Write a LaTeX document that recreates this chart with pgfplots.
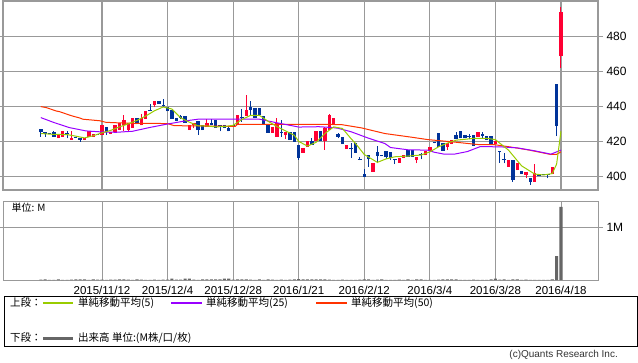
\documentclass[border=0pt]{standalone}
\usepackage{pgfplots}
\pgfplotsset{compat=1.18}
\usepackage{pgfplotstable}
\usepackage{fontspec}
\setmainfont{Liberation Sans}
\newfontfamily\jp{Noto Sans CJK JP}
\definecolor{cred}{HTML}{FF0033}
\definecolor{cblue}{HTML}{003399}
\definecolor{cmaA}{HTML}{99CC00}
\definecolor{cmaB}{HTML}{9900FF}
\definecolor{cmaC}{HTML}{FF3300}
\definecolor{cgrid}{HTML}{999999}
\definecolor{cvol}{HTML}{666666}

\pgfplotstableread{
i o h l c
-10 421.7 424.0 421.7 423.9
-9 422.6 425.8 422.6 425.8
-7 420.9 425.8 420.9 422.0
-4 420.9 422.0 420.9 422.0
-3 422.6 425.8 422.6 425.8
-2 422.6 424.1 422.6 424.1
0 423.9 429.2 423.9 429.2
2 424.5 425.5 424.0 425.5
3 425.1 429.2 425.1 429.2
4 426.4 430.4 426.4 430.4
5 429.2 434.9 425.8 432.1
6 426.4 430.8 425.5 430.8
7 427.7 433.4 427.7 433.4
9 429.2 435.9 429.2 433.4
10 432.7 437.2 432.7 437.2
12 440.6 442.9 439.7 442.9
20 426.4 429.2 426.4 429.2
21 429.2 430.8 427.4 430.8
24 428.3 433.0 428.3 430.8
31 429.2 434.9 429.2 434.9
33 434.4 446.3 434.4 437.8
39 424.9 428.3 424.9 428.3
40 422.6 433.6 422.6 430.8
42 423.6 425.1 421.3 425.1
46 413.5 416.0 413.5 416.0
47 416.9 420.1 416.9 420.1
49 420.1 425.8 420.1 425.8
51 420.1 428.3 415.2 427.7
52 426.4 435.9 426.4 434.9
53 429.2 433.6 429.2 433.6
56 415.6 417.9 415.6 417.9
62 402.7 407.4 402.7 407.4
68 407.8 410.6 407.8 410.6
69 410.6 412.2 410.6 412.2
72 409.3 411.2 407.4 411.2
74 412.2 414.6 412.2 414.6
75 414.6 416.9 414.6 416.9
79 416.9 419.2 415.0 419.2
80 418.4 420.7 418.4 420.7
86 422.6 425.1 422.6 425.1
90 418.4 420.1 418.4 420.1
93 405.5 409.3 405.5 409.3
95 403.6 407.4 403.6 407.4
97 400.8 402.3 398.9 402.3
99 397.0 407.0 397.0 401.7
103 401.3 405.1 401.3 405.1
105 468.8 497.0 462.0 494.2
}\upc

\pgfplotstableread{
i o h l c
-14 427.0 427.0 422.6 425.1
-13 425.5 425.5 422.6 424.5
-12 425.0 425.0 424.0 424.4
-11 425.5 425.8 422.6 422.6
-8 425.0 425.8 421.7 424.5
-6 422.6 422.6 422.0 422.0
-5 422.0 422.0 419.8 420.9
-1 424.5 424.5 423.9 423.9
1 428.1 428.1 423.6 425.1
8 433.4 433.4 429.8 429.8
11 437.9 441.6 437.4 437.4
13 442.9 442.9 441.6 441.6
14 440.6 444.1 439.7 440.0
15 439.7 439.7 437.2 437.2
16 437.8 437.8 432.7 432.7
17 433.6 433.6 431.7 431.7
18 434.4 435.0 432.7 433.4
19 434.4 434.4 430.8 430.8
22 431.5 431.5 423.9 426.4
23 429.2 429.2 426.4 426.4
25 430.8 433.0 429.2 429.2
26 432.1 432.1 427.7 427.7
27 429.5 429.5 425.8 429.0
28 429.6 429.6 427.7 427.7
29 427.7 428.5 425.8 425.8
30 429.6 429.6 428.3 428.7
32 433.8 438.7 431.1 433.2
34 439.7 442.9 434.9 438.2
35 439.1 439.1 433.4 433.4
36 439.1 439.1 434.9 434.9
37 434.4 434.4 429.6 429.6
38 429.2 429.2 424.9 424.9
41 425.4 432.1 422.6 424.9
43 425.1 425.1 420.7 420.7
44 425.1 425.1 419.8 419.8
45 417.9 417.9 409.5 410.6
48 420.1 422.0 418.2 418.2
50 425.8 425.8 420.1 420.1
54 424.0 424.9 421.7 422.6
55 422.6 422.6 418.4 418.4
57 416.3 418.8 410.6 415.8
58 418.8 418.8 413.5 413.5
59 410.2 411.2 409.3 409.7
60 401.3 404.0 399.8 399.8
61 412.2 412.2 405.5 409.7
63 413.7 417.5 407.4 411.8
64 412.2 412.2 411.4 411.6
65 414.6 414.6 409.7 411.2
66 413.7 413.7 409.3 410.6
67 410.2 410.2 407.0 409.7
70 415.0 415.0 411.2 411.2
71 415.0 415.0 411.2 411.2
73 413.0 413.1 409.7 412.5
76 419.5 419.5 418.8 419.0
77 424.9 424.9 416.9 416.9
78 419.2 419.2 414.6 414.6
81 423.9 425.5 421.1 421.1
82 425.8 425.8 421.7 421.7
83 423.9 423.9 421.7 421.7
84 423.3 424.5 421.1 422.8
85 423.9 423.9 417.5 417.5
87 424.5 425.5 421.7 423.0
88 423.0 423.0 420.7 420.7
89 423.0 423.0 418.4 418.4
91 414.4 414.6 407.8 413.9
92 410.0 413.1 407.4 409.5
94 409.3 409.3 397.0 397.9
96 403.2 403.2 401.3 401.3
98 399.2 399.2 395.1 397.0
100 401.3 401.5 400.2 400.2
101 401.3 401.5 400.6 400.8
102 401.3 401.5 398.9 400.8
104 453.0 453.0 423.0 428.7
}\downc

\pgfplotstableread{
i v
-14 0.006
-13 0.012
-12 0.004
-11 0.003
-10 0.012
-9 0.004
-8 0.003
-7 0.005
-6 0.014
-5 0.014
-4 0.012
-3 0.004
-2 0.012
-1 0.005
0 0.006
1 0.004
2 0.008
3 0.005
4 0.014
5 0.014
6 0.006
7 0.004
8 0.012
9 0.005
10 0.004
11 0.003
12 0.006
13 0.004
14 0.006
15 0.005
16 0.028
17 0.006
18 0.005
19 0.026
20 0.026
21 0.006
22 0.004
23 0.012
24 0.012
25 0.012
26 0.012
27 0.010
28 0.026
29 0.024
30 0.006
31 0.014
32 0.014
33 0.010
34 0.005
35 0.004
36 0.012
37 0.004
38 0.012
39 0.005
40 0.004
41 0.005
42 0.004
43 0.006
44 0.014
45 0.018
46 0.014
47 0.014
48 0.012
49 0.012
50 0.012
51 0.010
52 0.006
53 0.004
54 0.004
55 0.005
56 0.004
57 0.003
58 0.004
59 0.005
60 0.012
61 0.010
62 0.004
63 0.005
64 0.012
65 0.004
66 0.003
67 0.004
68 0.005
69 0.004
70 0.012
71 0.004
72 0.012
73 0.012
74 0.004
75 0.004
76 0.003
77 0.005
78 0.012
79 0.012
80 0.012
81 0.010
82 0.004
83 0.003
84 0.004
85 0.005
86 0.004
87 0.003
88 0.004
89 0.012
90 0.028
91 0.006
92 0.012
93 0.004
94 0.014
95 0.012
96 0.004
97 0.005
98 0.004
99 0.003
100 0.004
101 0.003
102 0.004
103 0.012
104 0.45
105 1.38
}\vol

\begin{document}
\begin{tikzpicture}[x=1pt,y=1pt]
\path[use as bounding box] (0pt,0pt) rectangle (638pt,362pt);
% ---------- price panel ----------
\begin{axis}[
  at={(3pt,172pt)}, anchor=south west, scale only axis,
  width=595pt, height=189pt,
  xmin=-22.65, xmax=113.47, ymin=392.2, ymax=500.3,
  axis line style={cgrid, line width=1.2pt},
  xtick={0,15,...,105}, xticklabels={},
  xtick style={draw=none},
  ytick={400,420,440,460,480},
  yticklabel pos=right,
  tick align=outside, major tick length=5pt,
  ytick style={draw=cgrid, line width=1.1pt},
  grid=major, major grid style={cgrid, line width=1.1pt},
  ticklabel style={font=\fontsize{12}{14}\selectfont, text=black},
  /pgf/number format/assume math mode=true,
  yticklabel style={/pgf/number format/.cd, fixed, precision=0},
]
% wicks
\addplot[draw=none, mark=none, forget plot,
  error bars/.cd, y dir=plus, y explicit, error mark=none,
  error bar style={draw=cred, line width=1pt}]
  table[x=i, y=l, y error expr={\thisrow{h}-\thisrow{l}}] {\upc};
\addplot[draw=none, mark=none, forget plot,
  error bars/.cd, y dir=plus, y explicit, error mark=none,
  error bar style={draw=cblue, line width=1pt}]
  table[x=i, y=l, y error expr={\thisrow{h}-\thisrow{l}}] {\downc};
% bodies
\addplot[draw=none, mark=none, forget plot,
  error bars/.cd, y dir=plus, y explicit, error mark=none,
  error bar style={draw=cred, line width=3.4pt}]
  table[x=i, y=o, y error expr={\thisrow{c}-\thisrow{o}}] {\upc};
\addplot[draw=none, mark=none, forget plot,
  error bars/.cd, y dir=plus, y explicit, error mark=none,
  error bar style={draw=cblue, line width=3.4pt}]
  table[x=i, y=c, y error expr={\thisrow{o}-\thisrow{c}}] {\downc};
% 50-day MA
\addplot[cmaC, line width=1pt] coordinates {
(-14,439.9) (-12.7,439.3) (-10.5,437.4) (-9.7,437.0) (-7.5,435.1) (-6.6,434.4) (-5.1,433.4) (-4.4,432.7) (-0.5,431.8) (0.9,430.9) (5.9,430.4) (15,430.2) (16.5,429.0) (30.5,428.6) (31,429.8) (49.6,429.8) (54.8,429.6) (59.4,427.7) (64.7,424.5) (70.8,422.4) (74.6,421.0) (79.9,419.8) (86,418.2) (89.8,418.1) (93.2,416.9) (97.8,415.0) (102.7,412.5) (104,412.6) (105,414.0)};
% 25-day MA
\addplot[cmaB, line width=1pt] coordinates {
(-14,433.6) (-11,430.8) (-7.5,427.9) (-3.7,426.0) (0,425.4) (3.2,425.2) (7,425.8) (11,428.0) (14.7,429.8) (19,431.7) (22,432.7) (36,432.7) (39.7,430.8) (45,428.2) (49.6,428.4) (52.8,427.9) (54,427.5) (57,425.5) (61,421.8) (64.7,418.8) (66,416.5) (70,415.2) (74.5,415.0) (76,413.8) (78.3,412.7) (80.6,412.7) (83.6,414.2) (86.5,417.0) (91,416.9) (95,416.3) (99,414.6) (102.7,412.7) (105,415.0)};
% 5-day MA
\addplot[cmaA, line width=1pt] coordinates {
(-14,424.5) (-11,424.0) (-8,423.9) (-6,423.0) (-4,422.0) (-2,423.2) (0,424.9) (2,426.3) (4,428.3) (6,430.0) (8,432.0) (10,434.5) (12,437.5) (14,439.7) (16,438.5) (18,433.5) (20,431.0) (22,428.9) (24,428.8) (26,428.3) (28,428.5) (30,429.2) (32,432.5) (34,434.9) (36,434.9) (38,431.5) (40,428.5) (42,426.0) (44,423.5) (45,420.0) (47,417.3) (49,419.5) (51,424.5) (53,428.3) (55,427.4) (57,421.5) (58,418.8) (60,412.5) (62,409.5) (63,408.0) (65,410.0) (67,411.2) (70,411.6) (73,412.2) (75,414.0) (77,416.9) (79,419.0) (81,420.7) (85,421.7) (88,421.8) (90,421.0) (91,419.0) (93,415.0) (96,406.0) (99,401.3) (101,400.8) (103,401.6) (104,407.0) (105,425.8)};
\end{axis}
% ---------- volume panel ----------
\begin{axis}[
  at={(3pt,82pt)}, anchor=south west, scale only axis,
  width=595pt, height=79pt,
  xmin=-22.65, xmax=113.47, ymin=0, ymax=1.49,
  axis line style={cgrid, line width=0.9pt},
  xtick={0,15,...,105},
  xticklabels={2015/11/12,2015/12/4,2015/12/28,2016/1/21,2016/2/12,2016/3/4,2016/3/28,2016/4/18},
  xtick style={draw=none},
  ytick={1}, yticklabels={1M},
  yticklabel pos=right,
  tick align=outside, major tick length=5pt,
  ytick style={draw=cgrid, line width=0.9pt},
  grid=major, major grid style={cgrid, line width=0.8pt},
  ticklabel style={font=\fontsize{12}{14}\selectfont, text=black},
  xticklabel style={font=\fontsize{11.5}{13}\selectfont, inner sep=1pt, yshift=0.5pt},
]
\addplot[ybar, bar width=0.7, fill=cvol, draw=none] table[x=i, y=v] {\vol};
\end{axis}
\node[anchor=west, font=\jp\fontsize{10}{12}\selectfont] at (8pt,154pt) {単位: M};
% ---------- legend box ----------
\draw[black, line width=0.9pt] (4pt,16pt) rectangle (637pt,65.5pt);
\fill[cmaA] (43pt,58.2pt) rectangle (73pt,59.8pt);
\fill[cmaB] (171pt,58.2pt) rectangle (202pt,59.8pt);
\fill[cmaC] (316pt,58.2pt) rectangle (347pt,59.8pt);
\fill[cvol] (43pt,22.5pt) rectangle (73pt,25.5pt);
\begin{scope}[font=\jp\fontsize{10.5}{12}\selectfont]
\node[anchor=west, inner sep=0] at (10pt,59pt) {上段：};
\node[anchor=west, inner sep=0] at (78pt,59pt) {単純移動平均(5)};
\node[anchor=west, inner sep=0] at (206pt,59pt) {単純移動平均(25)};
\node[anchor=west, inner sep=0] at (351pt,59pt) {単純移動平均(50)};
\node[anchor=west, inner sep=0] at (10pt,24pt) {下段：};
\node[anchor=west, inner sep=0] at (78pt,24pt) {出来高 単位:(M株/口/枚)};
\end{scope}
\node[anchor=east, inner sep=0, font=\fontsize{10}{12}\selectfont, text=black!80] at (618pt,7pt) {(c)Quants Research Inc.};
\end{tikzpicture}
\end{document}
